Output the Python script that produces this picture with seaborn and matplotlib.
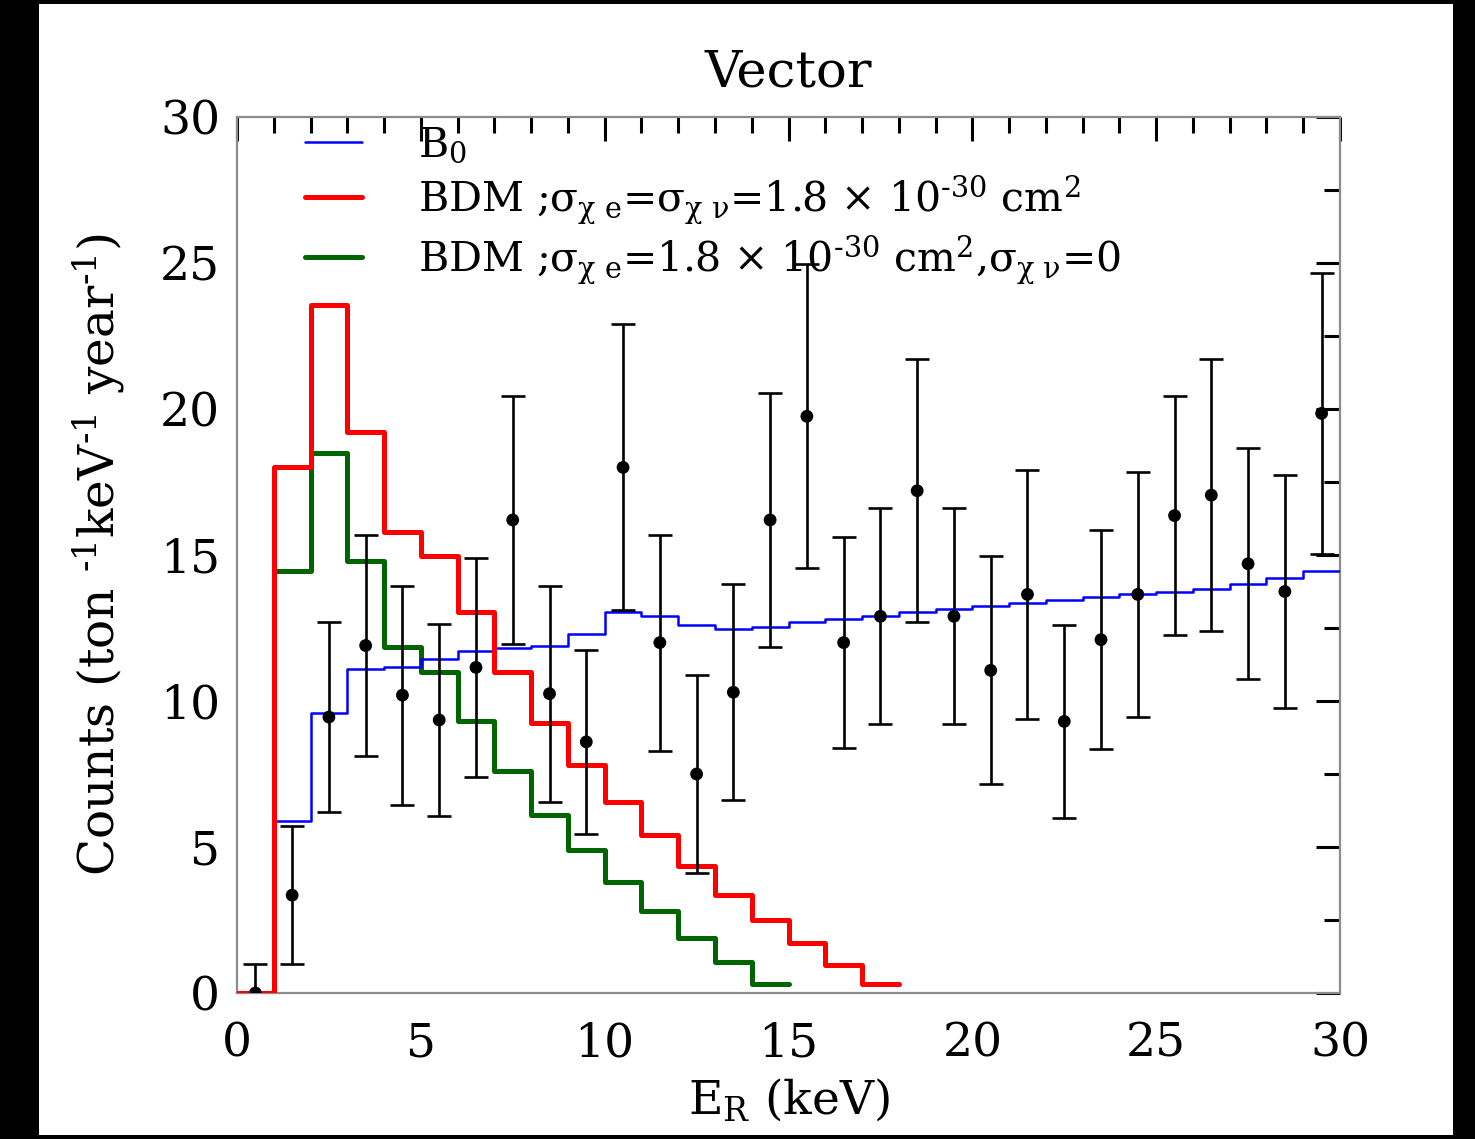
import numpy as np
import pandas as pd
import matplotlib
matplotlib.use("Agg")
import matplotlib.pyplot as plt
from matplotlib.patches import Rectangle
from matplotlib.ticker import MultipleLocator
import seaborn as sns

# ---- data (counts per ton per keV per year, 1 keV bins) ----
bin_width = 1.0
b0_counts = [0.0, 5.9, 9.6, 11.1, 11.15, 11.45, 11.7, 11.8, 11.9, 12.3,
             13.05, 12.9, 12.6, 12.47, 12.55, 12.7, 12.8, 12.9, 13.05, 13.15,
             13.25, 13.35, 13.45, 13.55, 13.65, 13.75, 13.85, 14.0, 14.2, 14.45]
bdm_both = [0.0, 18.0, 23.55, 19.2, 15.8, 14.95, 13.05, 11.0, 9.25, 7.8,
            6.55, 5.4, 4.35, 3.35, 2.5, 1.7, 0.95, 0.3]
bdm_e_only = [0.0, 14.45, 18.5, 14.8, 11.85, 11.0, 9.3, 7.6, 6.1, 4.9,
              3.8, 2.8, 1.9, 1.05, 0.3]
data_counts = [0.0, 3.35, 9.45, 11.9, 10.2, 9.35, 11.15, 16.2, 10.25, 8.6,
               18.0, 12.0, 7.5, 10.3, 16.2, 19.75, 12.0, 12.9, 17.2, 12.9,
               11.05, 13.65, 9.3, 12.1, 13.65, 16.35, 17.05, 14.7, 13.75, 19.85]
data_err = [1.0, 2.37, 3.25, 3.8, 3.75, 3.3, 3.75, 4.25, 3.7, 3.15,
            4.9, 3.7, 3.4, 3.7, 4.35, 5.2, 3.6, 3.7, 4.5, 3.7,
            3.9, 4.25, 3.3, 3.75, 4.2, 4.1, 4.65, 3.95, 4.0, 4.8]

labels = [r"B$_{0}$",
          r"BDM ;$\sigma_{\chi\ e}$=$\sigma_{\chi\ \nu}$=1.8 × 10$^{‐30}$ cm$^{2}$",
          r"BDM ;$\sigma_{\chi\ e}$=1.8 × 10$^{‐30}$ cm$^{2}$,$\sigma_{\chi\ \nu}$=0"]


def step_frame(counts):
    """Bin edges with the last height repeated, for a steps-post outline."""
    edges = np.arange(len(counts) + 1) * bin_width
    heights = list(counts) + [counts[-1]]
    return pd.DataFrame({"E": edges, "N": heights})


sns.set_style("white")
plt.rcParams["font.family"] = ["DejaVu Serif"]
plt.rcParams["mathtext.fontset"] = "custom"
plt.rcParams["mathtext.rm"] = "DejaVu Serif"
plt.rcParams["mathtext.it"] = "DejaVu Serif"
plt.rcParams["mathtext.bf"] = "DejaVu Serif:bold"
plt.rcParams["text.color"] = "black"
plt.rcParams["axes.labelcolor"] = "black"
plt.rcParams["xtick.color"] = "black"
plt.rcParams["ytick.color"] = "black"

fig = plt.figure(figsize=(14.75, 11.39), dpi=100)
fig.patch.set_facecolor("black")
fig.patches.append(Rectangle((39 / 1475, 4 / 1139), (1453 - 39) / 1475, (1135 - 4) / 1139,
                             transform=fig.transFigure, facecolor="white",
                             edgecolor="none", zorder=-10))
ax = fig.add_axes([237 / 1475, (1139 - 993) / 1139, (1340 - 237) / 1475, (993 - 117) / 1139])
ax.set_facecolor("white")

sns.lineplot(data=step_frame(bdm_e_only), x="E", y="N", ax=ax, color="#006400",
             linewidth=3.6, drawstyle="steps-post", estimator=None, sort=False, zorder=3)
sns.lineplot(data=step_frame(b0_counts), x="E", y="N", ax=ax, color="#0000ff",
             linewidth=1.8, drawstyle="steps-post", estimator=None, sort=False, zorder=3)
sns.lineplot(data=step_frame(bdm_both), x="E", y="N", ax=ax, color="#ff0000",
             linewidth=3.6, drawstyle="steps-post", estimator=None, sort=False, zorder=3)

centers = (np.arange(len(data_counts)) + 0.5) * bin_width
ax.errorbar(centers, data_counts, yerr=data_err, fmt="none", ecolor="black",
            elinewidth=1.9, capsize=8.5, capthick=1.9, zorder=5)
sns.scatterplot(x=centers, y=data_counts, ax=ax, color="black", s=85,
                edgecolor="none", zorder=6)

lines = ax.get_lines()
handles = [lines[1], lines[2], lines[0]]
ax.legend(handles, labels, loc="upper left", bbox_to_anchor=(0.0617, 0.99),
          frameon=False, fontsize=29.5, handlelength=1.4, handletextpad=1.35,
          labelspacing=0.17, borderpad=0.0, borderaxespad=0.0)

ax.set_xlim(0, 30)
ax.set_ylim(0, 30)
ax.xaxis.set_major_locator(MultipleLocator(5))
ax.xaxis.set_minor_locator(MultipleLocator(1))
ax.yaxis.set_major_locator(MultipleLocator(5))
ax.yaxis.set_minor_locator(MultipleLocator(2.5))
ax.tick_params(which="both", direction="in", top=True, right=True,
               color="black", width=2.2)
ax.tick_params(which="major", length=17, labelsize=34)
ax.tick_params(which="minor", length=11.5)
ax.tick_params(axis="x", which="major", pad=20)
ax.tick_params(axis="y", which="major", pad=12)
for sp in ax.spines.values():
    sp.set_color("#8c8c8c")
    sp.set_linewidth(1.6)
    sp.set_visible(True)

ax.set_title("Vector", fontsize=37, pad=22)
ax.set_xlabel(r"E$_{\mathrm{R}}$ (keV)", fontsize=34, labelpad=8)
ax.set_ylabel(r"Counts (ton $^{‐1}$keV$^{‐1}$ year$^{‐1}$)", fontsize=35, labelpad=24)

fig.savefig("out.png", dpi=100, facecolor=fig.get_facecolor())
